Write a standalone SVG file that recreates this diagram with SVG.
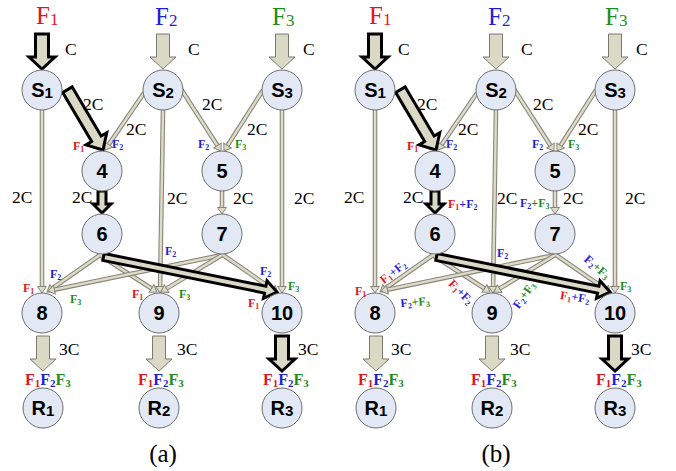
<svg xmlns="http://www.w3.org/2000/svg" width="676" height="471" viewBox="0 0 676 471">
<defs>
<marker id="ah" markerUnits="userSpaceOnUse" orient="auto" refX="0" refY="0" markerWidth="10" markerHeight="10" overflow="visible"><path d="M0,-4.5 L6.5,0 L0,4.5 Z" fill="#dedcc9" stroke="#86867a" stroke-width="1"/></marker>
<path id="va" d="M-6.5,-35 L6.5,-35 L6.5,-12 L13,-12 L0,0 L-13,-12 L-6.5,-12 Z"/>
<path id="da" d="M-70,-5.5 L-13,-5.5 L-13,-12 L0,0 L-13,12 L-13,5.5 L-70,5.5 Z"/>
<path id="sa" d="M-4,-22 L4,-22 L4,-9 L9,-9 L0,0 L-9,-9 L-4,-9 Z"/>
<path id="la" d="M-177,-3.5 L-12,-3.5 L-12,-9 L0,0 L-12,9 L-12,3.5 L-177,3.5 Z"/>
</defs>
<style>
.po{stroke:#86867a;stroke-width:4.6;fill:none}
.pi{stroke:#dedcc9;stroke-width:2.4;fill:none;marker-end:url(#ah)}
.blk{fill:#d9d9c6;stroke:#000;stroke-width:3;stroke-linejoin:miter}
.gry{fill:#d9d9c6;stroke:#7a7a70;stroke-width:1}
.node circle{fill:#e3e8f5;stroke:#6e6e6e;stroke-width:1}
.node text{font-family:"Liberation Sans",Arial,sans-serif;font-weight:bold;font-size:20px;text-anchor:middle;fill:#000}
.node .sub{font-size:15px}
.el{font-family:"Liberation Serif","Times New Roman",serif;font-size:17.5px;fill:#000}
.big{font-family:"Liberation Serif","Times New Roman",serif;font-size:25px}
.bs{font-size:17px}
.fl{font-family:"Liberation Serif","Times New Roman",serif;font-weight:bold;font-size:12px}
.fs{font-size:8px}
.fb{font-family:"Liberation Serif","Times New Roman",serif;font-weight:bold;font-size:16px}
.fbs{font-size:11px}
.cap{font-family:"Liberation Serif","Times New Roman",serif;font-size:25px;text-anchor:middle;fill:#000}
.r{fill:#e4141c}.b{fill:#1f1fd4}.g{fill:#1e8c1e}
</style>
<rect width="676" height="471" fill="#fff"/>

<!-- ================= PANEL A ================= -->
<g id="panel-a">
<g id="a-connectors">
<line class="po" x1="144" y1="93" x2="108.67" y2="144.64"/><line class="pi" x1="144" y1="93" x2="108.67" y2="144.64"/>
<line class="po" x1="181" y1="89" x2="217.44" y2="145.56"/><line class="pi" x1="181" y1="89" x2="217.44" y2="145.56"/>
<line class="po" x1="263" y1="90" x2="227.54" y2="145.55"/><line class="pi" x1="263" y1="90" x2="227.54" y2="145.55"/>
<line class="po" x1="42" y1="110" x2="42" y2="286.5"/><line class="pi" x1="42" y1="110" x2="42" y2="286.5"/>
<line class="po" x1="163" y1="110" x2="160.1" y2="286.5"/><line class="pi" x1="163" y1="110" x2="160.1" y2="286.5"/>
<line class="po" x1="282" y1="110" x2="282" y2="286.5"/><line class="pi" x1="282" y1="110" x2="282" y2="286.5"/>
<line class="po" x1="222" y1="190" x2="222" y2="207.5"/><line class="pi" x1="222" y1="190" x2="222" y2="207.5"/>
<line class="po" x1="100" y1="255" x2="52.33" y2="288.28"/><line class="pi" x1="100" y1="255" x2="52.33" y2="288.28"/>
<line class="po" x1="101" y1="256" x2="151.53" y2="288.48"/><line class="pi" x1="101" y1="256" x2="151.53" y2="288.48"/>
<line class="po" x1="222" y1="255" x2="54.37" y2="289.68"/><line class="pi" x1="222" y1="255" x2="54.37" y2="289.68"/>
<line class="po" x1="222" y1="255" x2="166.56" y2="288.63"/><line class="pi" x1="222" y1="255" x2="166.56" y2="288.63"/>
<line class="po" x1="223" y1="255" x2="272.65" y2="289.31"/><line class="pi" x1="223" y1="255" x2="272.65" y2="289.31"/>
<use href="#va" x="42" y="69" class="blk"/>
<use href="#va" x="163" y="69" class="gry"/>
<use href="#va" x="282" y="69" class="gry"/>
<use href="#da" transform="translate(103,150) rotate(59.5)" class="blk"/>
<use href="#sa" x="102" y="213" class="blk"/>
<use href="#la" transform="translate(277,292) rotate(11.4)" class="blk"/>
<use href="#va" x="43" y="371" class="gry"/>
<use href="#va" x="159" y="371" class="gry"/>
<use href="#va" x="282" y="371" class="blk"/>
</g>
<g id="a-S1" class="node"><circle cx="42" cy="90" r="20"/><text x="42" y="97">S<tspan class="sub" dy="1">1</tspan></text></g>
<g id="a-S2" class="node"><circle cx="163" cy="90" r="20"/><text x="163" y="97">S<tspan class="sub" dy="1">2</tspan></text></g>
<g id="a-S3" class="node"><circle cx="282" cy="90" r="20"/><text x="282" y="97">S<tspan class="sub" dy="1">3</tspan></text></g>
<g id="a-n4" class="node"><circle cx="102" cy="171" r="20"/><text x="102" y="178">4</text></g>
<g id="a-n5" class="node"><circle cx="222" cy="171" r="20"/><text x="222" y="178">5</text></g>
<g id="a-n6" class="node"><circle cx="102" cy="234" r="20"/><text x="102" y="241">6</text></g>
<g id="a-n7" class="node"><circle cx="222" cy="234" r="20"/><text x="222" y="241">7</text></g>
<g id="a-n8" class="node"><circle cx="42" cy="313" r="20"/><text x="42" y="320">8</text></g>
<g id="a-n9" class="node"><circle cx="159" cy="313" r="20"/><text x="159" y="320">9</text></g>
<g id="a-n10" class="node"><circle cx="282" cy="313" r="20"/><text x="282" y="320">10</text></g>
<g id="a-R1" class="node"><circle cx="43" cy="408" r="20"/><text x="43" y="415">R<tspan class="sub" dy="1">1</tspan></text></g>
<g id="a-R2" class="node"><circle cx="159" cy="408" r="20"/><text x="159" y="415">R<tspan class="sub" dy="1">2</tspan></text></g>
<g id="a-R3" class="node"><circle cx="282" cy="408" r="20"/><text x="282" y="415">R<tspan class="sub" dy="1">3</tspan></text></g>
<g id="a-labels">
<text class="big r" x="36" y="24">F<tspan class="bs" dy="1">1</tspan></text>
<text class="big b" x="155" y="25">F<tspan class="bs" dy="1">2</tspan></text>
<text class="big g" x="272" y="25">F<tspan class="bs" dy="1">3</tspan></text>
<text class="el" x="65" y="55">C</text><text class="el" x="188" y="55">C</text><text class="el" x="303" y="55">C</text>
<text class="el" x="83" y="110">2C</text><text class="el" x="126" y="135">2C</text>
<text class="el" x="202" y="110">2C</text><text class="el" x="247" y="135">2C</text>
<text class="el" x="12" y="203">2C</text><text class="el" x="72" y="203">2C</text>
<text class="el" x="167" y="204">2C</text><text class="el" x="233" y="204">2C</text><text class="el" x="294" y="204">2C</text>
<text class="el" x="59" y="355">3C</text><text class="el" x="177" y="355">3C</text><text class="el" x="298" y="355">3C</text>
<text class="fl r" x="73" y="150">F<tspan class="fs" dy="2">1</tspan></text>
<text class="fl b" x="112" y="148">F<tspan class="fs" dy="2">2</tspan></text>
<text class="fl b" x="198" y="148">F<tspan class="fs" dy="2">2</tspan></text>
<text class="fl g" x="235" y="148">F<tspan class="fs" dy="2">3</tspan></text>
<text class="fl b" x="50" y="278">F<tspan class="fs" dy="2">2</tspan></text>
<text class="fl r" x="23" y="292">F<tspan class="fs" dy="2">1</tspan></text>
<text class="fl g" x="70" y="303">F<tspan class="fs" dy="2">3</tspan></text>
<text class="fl r" x="132" y="298">F<tspan class="fs" dy="2">1</tspan></text>
<text class="fl g" x="179" y="298">F<tspan class="fs" dy="2">3</tspan></text>
<text class="fl b" x="165" y="255">F<tspan class="fs" dy="2">2</tspan></text>
<text class="fl b" x="260" y="275">F<tspan class="fs" dy="2">2</tspan></text>
<text class="fl g" x="288" y="290">F<tspan class="fs" dy="2">3</tspan></text>
<text class="fl r" x="248" y="307">F<tspan class="fs" dy="2">1</tspan></text>
<text class="fb" x="25" y="385"><tspan class="r">F</tspan><tspan class="r fbs" dy="2">1</tspan><tspan class="b" dy="-2">F</tspan><tspan class="b fbs" dy="2">2</tspan><tspan class="g" dy="-2">F</tspan><tspan class="g fbs" dy="2">3</tspan></text>
<text class="fb" x="138" y="385"><tspan class="r">F</tspan><tspan class="r fbs" dy="2">1</tspan><tspan class="b" dy="-2">F</tspan><tspan class="b fbs" dy="2">2</tspan><tspan class="g" dy="-2">F</tspan><tspan class="g fbs" dy="2">3</tspan></text>
<text class="fb" x="263" y="385"><tspan class="r">F</tspan><tspan class="r fbs" dy="2">1</tspan><tspan class="b" dy="-2">F</tspan><tspan class="b fbs" dy="2">2</tspan><tspan class="g" dy="-2">F</tspan><tspan class="g fbs" dy="2">3</tspan></text>
<text class="cap" x="163" y="462">(a)</text>
</g>
</g>

<!-- ================= PANEL B ================= -->
<g id="panel-b" transform="translate(333,0)">
<g id="b-connectors">
<line class="po" x1="144" y1="93" x2="108.67" y2="144.64"/><line class="pi" x1="144" y1="93" x2="108.67" y2="144.64"/>
<line class="po" x1="181" y1="89" x2="217.44" y2="145.56"/><line class="pi" x1="181" y1="89" x2="217.44" y2="145.56"/>
<line class="po" x1="263" y1="90" x2="227.54" y2="145.55"/><line class="pi" x1="263" y1="90" x2="227.54" y2="145.55"/>
<line class="po" x1="42" y1="110" x2="42" y2="286.5"/><line class="pi" x1="42" y1="110" x2="42" y2="286.5"/>
<line class="po" x1="163" y1="110" x2="160.1" y2="286.5"/><line class="pi" x1="163" y1="110" x2="160.1" y2="286.5"/>
<line class="po" x1="282" y1="110" x2="282" y2="286.5"/><line class="pi" x1="282" y1="110" x2="282" y2="286.5"/>
<line class="po" x1="222" y1="190" x2="222" y2="207.5"/><line class="pi" x1="222" y1="190" x2="222" y2="207.5"/>
<line class="po" x1="100" y1="255" x2="52.33" y2="288.28"/><line class="pi" x1="100" y1="255" x2="52.33" y2="288.28"/>
<line class="po" x1="101" y1="256" x2="151.53" y2="288.48"/><line class="pi" x1="101" y1="256" x2="151.53" y2="288.48"/>
<line class="po" x1="222" y1="255" x2="54.37" y2="289.68"/><line class="pi" x1="222" y1="255" x2="54.37" y2="289.68"/>
<line class="po" x1="222" y1="255" x2="166.56" y2="288.63"/><line class="pi" x1="222" y1="255" x2="166.56" y2="288.63"/>
<line class="po" x1="223" y1="255" x2="272.65" y2="289.31"/><line class="pi" x1="223" y1="255" x2="272.65" y2="289.31"/>
<use href="#va" x="42" y="69" class="blk"/>
<use href="#va" x="163" y="69" class="gry"/>
<use href="#va" x="282" y="69" class="gry"/>
<use href="#da" transform="translate(103,150) rotate(59.5)" class="blk"/>
<use href="#sa" x="102" y="213" class="blk"/>
<use href="#la" transform="translate(277,292) rotate(11.4)" class="blk"/>
<use href="#va" x="43" y="371" class="gry"/>
<use href="#va" x="159" y="371" class="gry"/>
<use href="#va" x="282" y="371" class="blk"/>
</g>
<g id="b-S1" class="node"><circle cx="42" cy="90" r="20"/><text x="42" y="97">S<tspan class="sub" dy="1">1</tspan></text></g>
<g id="b-S2" class="node"><circle cx="163" cy="90" r="20"/><text x="163" y="97">S<tspan class="sub" dy="1">2</tspan></text></g>
<g id="b-S3" class="node"><circle cx="282" cy="90" r="20"/><text x="282" y="97">S<tspan class="sub" dy="1">3</tspan></text></g>
<g id="b-n4" class="node"><circle cx="102" cy="171" r="20"/><text x="102" y="178">4</text></g>
<g id="b-n5" class="node"><circle cx="222" cy="171" r="20"/><text x="222" y="178">5</text></g>
<g id="b-n6" class="node"><circle cx="102" cy="234" r="20"/><text x="102" y="241">6</text></g>
<g id="b-n7" class="node"><circle cx="222" cy="234" r="20"/><text x="222" y="241">7</text></g>
<g id="b-n8" class="node"><circle cx="42" cy="313" r="20"/><text x="42" y="320">8</text></g>
<g id="b-n9" class="node"><circle cx="159" cy="313" r="20"/><text x="159" y="320">9</text></g>
<g id="b-n10" class="node"><circle cx="282" cy="313" r="20"/><text x="282" y="320">10</text></g>
<g id="b-R1" class="node"><circle cx="43" cy="408" r="20"/><text x="43" y="415">R<tspan class="sub" dy="1">1</tspan></text></g>
<g id="b-R2" class="node"><circle cx="159" cy="408" r="20"/><text x="159" y="415">R<tspan class="sub" dy="1">2</tspan></text></g>
<g id="b-R3" class="node"><circle cx="282" cy="408" r="20"/><text x="282" y="415">R<tspan class="sub" dy="1">3</tspan></text></g>
<g id="b-labels">
<text class="big r" x="36" y="24">F<tspan class="bs" dy="1">1</tspan></text>
<text class="big b" x="155" y="25">F<tspan class="bs" dy="1">2</tspan></text>
<text class="big g" x="272" y="25">F<tspan class="bs" dy="1">3</tspan></text>
<text class="el" x="65" y="55">C</text><text class="el" x="188" y="55">C</text><text class="el" x="303" y="55">C</text>
<text class="el" x="84" y="110">2C</text><text class="el" x="125" y="135">2C</text>
<text class="el" x="200" y="110">2C</text><text class="el" x="245" y="135">2C</text>
<text class="el" x="11" y="203">2C</text><text class="el" x="70" y="203">2C</text>
<text class="el" x="164" y="204">2C</text><text class="el" x="230" y="204">2C</text><text class="el" x="292" y="204">2C</text>
<text class="el" x="58" y="355">3C</text><text class="el" x="177" y="355">3C</text><text class="el" x="298" y="355">3C</text>
<text class="fl r" x="74" y="150">F<tspan class="fs" dy="2">1</tspan></text>
<text class="fl b" x="113" y="148">F<tspan class="fs" dy="2">2</tspan></text>
<text class="fl b" x="199" y="148">F<tspan class="fs" dy="2">2</tspan></text>
<text class="fl g" x="235" y="148">F<tspan class="fs" dy="2">3</tspan></text>
<text class="fl" x="115" y="208"><tspan class="r">F</tspan><tspan class="r fs" dy="2">1</tspan><tspan class="b" dy="-2">+F</tspan><tspan class="b fs" dy="2">2</tspan></text>
<text class="fl" x="187" y="207"><tspan class="b">F</tspan><tspan class="b fs" dy="2">2</tspan><tspan class="g" dy="-2">+F</tspan><tspan class="g fs" dy="2">3</tspan></text>
<text class="fl r" x="22" y="295">F<tspan class="fs" dy="2">1</tspan></text>
<text class="fl" text-anchor="middle" transform="translate(60,272) rotate(-38)" y="4"><tspan class="r">F</tspan><tspan class="r fs" dy="2">1</tspan><tspan class="b" dy="-2">+F</tspan><tspan class="b fs" dy="2">2</tspan></text>
<text class="fl" text-anchor="middle" transform="translate(82,302) rotate(-5)" y="4"><tspan class="b">F</tspan><tspan class="b fs" dy="2">2</tspan><tspan class="g" dy="-2">+F</tspan><tspan class="g fs" dy="2">3</tspan></text>
<text class="fl" text-anchor="middle" transform="translate(128,292) rotate(45)" y="4"><tspan class="r">F</tspan><tspan class="r fs" dy="2">1</tspan><tspan class="b" dy="-2">+F</tspan><tspan class="b fs" dy="2">2</tspan></text>
<text class="fl b" x="164" y="257">F<tspan class="fs" dy="2">2</tspan></text>
<text class="fl" text-anchor="middle" transform="translate(191,295) rotate(-55)" y="4"><tspan class="b">F</tspan><tspan class="b fs" dy="2">2</tspan><tspan class="g" dy="-2">+F</tspan><tspan class="g fs" dy="2">3</tspan></text>
<text class="fl" text-anchor="middle" transform="translate(264,267) rotate(40)" y="4"><tspan class="b">F</tspan><tspan class="b fs" dy="2">2</tspan><tspan class="g" dy="-2">+F</tspan><tspan class="g fs" dy="2">3</tspan></text>
<text class="fl g" x="287" y="290">F<tspan class="fs" dy="2">3</tspan></text>
<text class="fl" text-anchor="middle" transform="translate(242,297) rotate(8)" y="4"><tspan class="r">F</tspan><tspan class="r fs" dy="2">1</tspan><tspan class="b" dy="-2">+F</tspan><tspan class="b fs" dy="2">2</tspan></text>
<text class="fb" x="25" y="385"><tspan class="r">F</tspan><tspan class="r fbs" dy="2">1</tspan><tspan class="b" dy="-2">F</tspan><tspan class="b fbs" dy="2">2</tspan><tspan class="g" dy="-2">F</tspan><tspan class="g fbs" dy="2">3</tspan></text>
<text class="fb" x="138" y="385"><tspan class="r">F</tspan><tspan class="r fbs" dy="2">1</tspan><tspan class="b" dy="-2">F</tspan><tspan class="b fbs" dy="2">2</tspan><tspan class="g" dy="-2">F</tspan><tspan class="g fbs" dy="2">3</tspan></text>
<text class="fb" x="263" y="385"><tspan class="r">F</tspan><tspan class="r fbs" dy="2">1</tspan><tspan class="b" dy="-2">F</tspan><tspan class="b fbs" dy="2">2</tspan><tspan class="g" dy="-2">F</tspan><tspan class="g fbs" dy="2">3</tspan></text>
<text class="cap" x="163" y="462">(b)</text>
</g>
</g>
</svg>
